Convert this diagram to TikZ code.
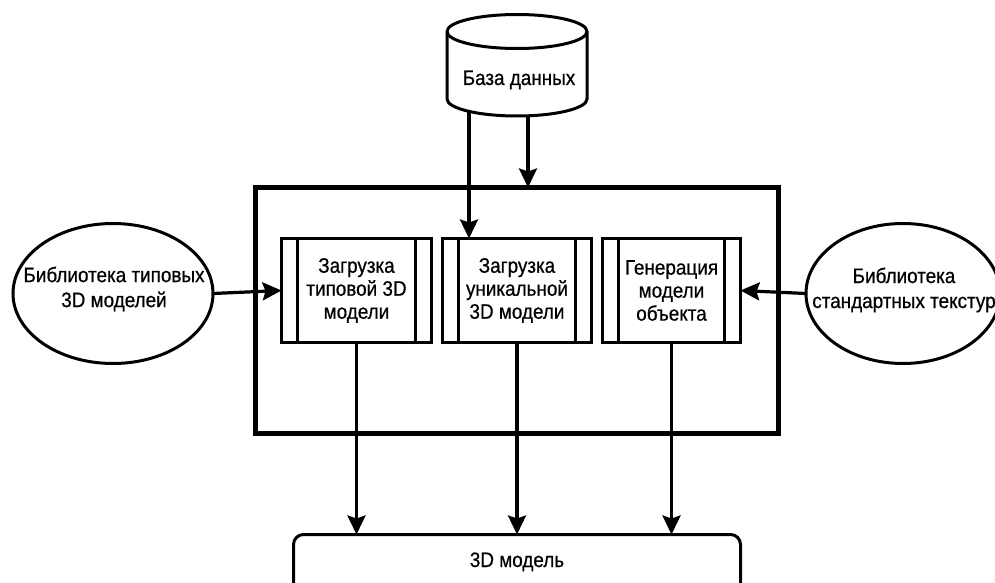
\documentclass[tikz,border=0pt]{standalone}
\usepackage{fontspec}
\setmainfont{Liberation Sans}[FakeStretch=0.9,FakeBold=0.6]
\usetikzlibrary{arrows.meta,shapes.geometric}
\begin{document}
\begin{tikzpicture}[x=1pt,y=-1pt,line join=miter,
  txt/.style={font=\fontsize{21}{23}\selectfont, align=center, inner sep=0pt},
  etxt/.style={font=\fontsize{21}{25}\selectfont, align=center, inner sep=0pt},
  arr/.style={line width=3.2pt, -{Stealth[length=19pt,width=18pt,inset=3pt]}},
  proc/.style={draw, line width=3pt, rectangle, inner sep=0pt, outer sep=0pt, minimum height=104pt,
    font=\fontsize{21}{23}\selectfont, align=center},
  ell/.style={draw, line width=3pt, ellipse, inner sep=0pt, outer sep=0pt, minimum height=140pt},
  frame/.style={draw, line width=5pt, rectangle, inner sep=0pt, outer sep=0pt, minimum width=523pt, minimum height=246pt},
  model/.style={draw, line width=3pt, rounded corners=10pt, rectangle, inner sep=0pt, outer sep=0pt, minimum width=447pt, minimum height=65pt}
]
\useasboundingbox (0,0) rectangle (995,583);

% big frame
\node[frame] (F) at (517,310.5) {};

% process boxes
\node[proc, minimum width=150pt] (b1) at (356.5,290.5) {Загрузка\\типовой 3D\\модели};
\node[proc, minimum width=149pt] (b2) at (517,290.5) {Загрузка\\уникальной\\3D модели};
\node[proc, minimum width=138pt] (b3) at (671.5,290.5) {Генерация\\модели\\объекта};
\foreach \b in {b1,b2,b3}{
  \draw[line width=3pt] ([xshift=16pt]\b.north west) -- ([xshift=16pt]\b.south west);
  \draw[line width=3pt] ([xshift=-16pt]\b.north east) -- ([xshift=-16pt]\b.south east);
}

% ellipses
\node[ell, minimum width=200pt] (L) at (113,293.5) {};
\node[etxt] (Lt) at (114,289) {Библиотека типовых\\3D моделей};
\node[ell, minimum width=194pt] (R) at (903,293.5) {};
\node[etxt] (Rt) at (904,290) {Библиотека\\стандартных текстур};

% bottom model box
\node[model] (M) at (517,567) {};
\node[txt, anchor=base] (Mt) at (517,567) {3D модель};

% database connectors (drawn before the cylinder)
\coordinate (dbL) at (469,99);
\coordinate (dbR) at (528,99);
\draw[arr] (dbL) -- (dbL |- b2.north);
\draw[arr] (dbR) -- (dbR |- F.north);

% cylinder
\draw[line width=3pt, fill=white] (447,31.5) -- (447,99)
  arc[start angle=180, end angle=0, x radius=70, y radius=17] -- (587,31.5)
  arc[start angle=0, end angle=-180, x radius=70, y radius=17] -- cycle;
\draw[line width=3pt] (447,31.5) arc[start angle=180, end angle=0, x radius=70, y radius=17];
\node[txt, anchor=base] (db) at (519,85) {База данных};

% side connectors
\draw[arr] (L.east) -- (b1.west);
\draw[arr] (R.west) -- (b3.east);

% outputs
\foreach \b in {b1,b2,b3}{
  \draw[arr] (\b.south) -- (\b.south |- M.north);
}
\end{tikzpicture}
\end{document}
